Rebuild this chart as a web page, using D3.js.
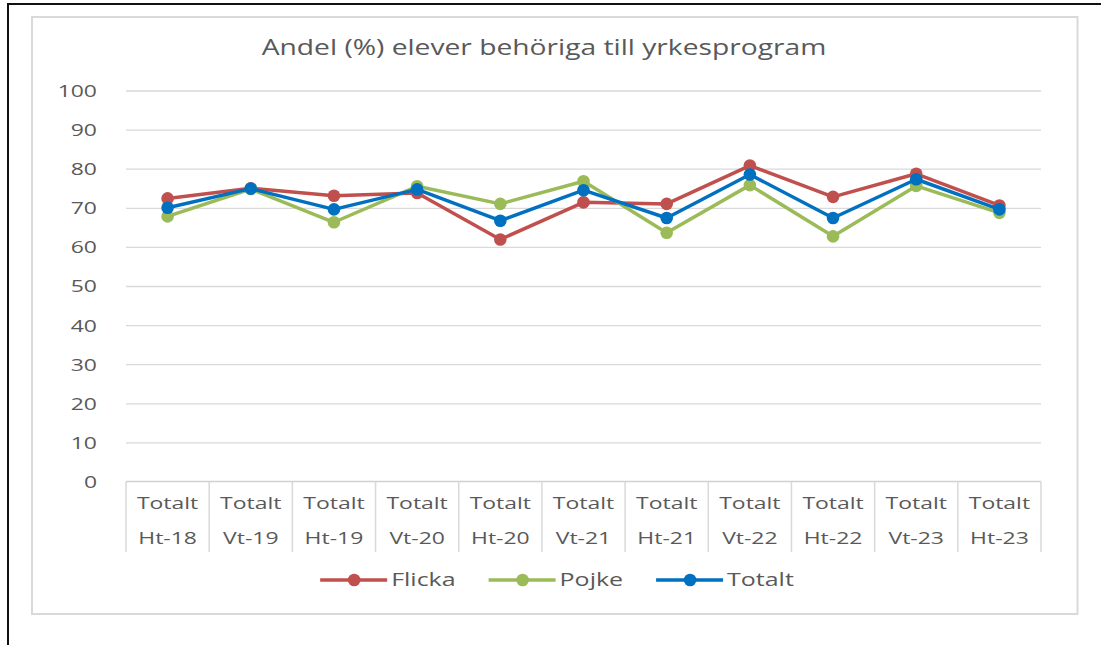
<!DOCTYPE html>
<meta charset="utf-8">
<title>Andel (%) elever behöriga till yrkesprogram</title>
<style>
    body {
        margin: 0;
        background: #fff;
        overflow: hidden;
    }

    svg {
        display: block;
        font-family: "Open Sans", sans-serif;
    }

    .grid line {
        stroke: #d9d9d9;
        stroke-width: 1.3px;
    }

    .series path {
        fill: none;
        stroke-width: 3.5px;
        stroke-linejoin: round;
    }

    text {
        fill: #595959;
    }
</style>

<body>
    <svg width="1101" height="645"></svg>

    <script src="https://d3js.org/d3.v7.min.js"></script>
    <script>
        // chart data
        const groupLabel = "Totalt";
        const periods = ["Ht-18", "Vt-19", "Ht-19", "Vt-20", "Ht-20", "Vt-21", "Ht-21", "Vt-22", "Ht-22", "Vt-23", "Ht-23"];
        const flicka = [72.4, 75.0, 73.1, 73.8, 61.9, 71.4, 71.0, 80.8, 72.8, 78.7, 70.6];
        const pojke = [67.8, 74.8, 66.3, 75.5, 71.0, 76.8, 63.6, 75.8, 62.7, 75.6, 68.7];
        const totalt = [70.0, 74.9, 69.6, 74.7, 66.7, 74.5, 67.4, 78.5, 67.4, 77.3, 69.6];
        const yTicks = [0, 10, 20, 30, 40, 50, 60, 70, 80, 90, 100];

        const series = [
            { name: "Flicka", color: "#c0504d", values: flicka },
            { name: "Pojke", color: "#9bbb59", values: pojke },
            { name: "Totalt", color: "#0070c0", values: totalt }
        ];

        // the picture is stretched sideways, so text is too
        const SX = 1.35;

        const svg = d3.select("svg");

        // outer black frame (top + left only)
        svg.append("line")
            .attr("x1", 8).attr("y1", 4).attr("x2", 1101).attr("y2", 4)
            .attr("stroke", "#111").attr("stroke-width", 2);
        svg.append("line")
            .attr("x1", 8).attr("y1", 3).attr("x2", 8).attr("y2", 645)
            .attr("stroke", "#111").attr("stroke-width", 2);

        // chart area border
        svg.append("rect")
            .attr("x", 32).attr("y", 17)
            .attr("width", 1045.5).attr("height", 597)
            .attr("fill", "#fff")
            .attr("stroke", "#d9d9d9")
            .attr("stroke-width", 2);

        // title
        svg.append("text")
            .attr("transform", `translate(544,55) scale(${SX},1)`)
            .attr("text-anchor", "middle")
            .attr("font-size", 20.9)
            .text("Andel (%) elever behöriga till yrkesprogram");

        const x = d3.scaleBand()
            .domain(periods)
            .range([126, 1041])
            .padding(0);

        const y = d3.scaleLinear()
            .domain([0, 100])
            .range([481.5, 90.5]);

        // gridlines
        svg.append("g")
            .attr("class", "grid")
            .attr("transform", "translate(126,0)")
            .call(d3.axisLeft(y).tickValues(yTicks.slice(1)).tickSize(-915).tickFormat(""))
            .call(g => g.select(".domain").remove());

        // y axis labels
        svg.append("g")
            .attr("transform", "translate(126,0)")
            .call(d3.axisLeft(y).tickValues(yTicks).tickSize(0))
            .call(g => g.select(".domain").remove())
            .call(g => g.selectAll("text")
                .attr("x", null)
                .attr("dy", "0.35em")
                .attr("font-size", 17)
                .attr("font-family", "Open Sans, sans-serif")
                .attr("fill", "#595959")
                .attr("transform", `translate(-29,0) scale(${SX},1)`));

        // category axis: line, separators and two rows of labels
        const cat = svg.append("g");
        cat.append("line")
            .attr("x1", 126).attr("x2", 1041)
            .attr("y1", y(0)).attr("y2", y(0))
            .attr("stroke", "#d0d0d0").attr("stroke-width", 1.5);
        cat.selectAll("line.sep")
            .data(periods.concat([null]))
            .join("line")
            .attr("class", "sep")
            .attr("x1", (d, i) => i < periods.length ? x(d) : x.range()[1])
            .attr("x2", (d, i) => i < periods.length ? x(d) : x.range()[1])
            .attr("y1", y(0))
            .attr("y2", 552)
            .attr("stroke", "#d9d9d9").attr("stroke-width", 1.5);
        cat.selectAll("text.grp")
            .data(periods)
            .join("text")
            .attr("class", "grp")
            .attr("text-anchor", "middle")
            .attr("dy", "0.35em")
            .attr("font-size", 17)
            .attr("transform", d => `translate(${x(d) + x.bandwidth() / 2},503) scale(${SX},1)`)
            .text(groupLabel);
        cat.selectAll("text.per")
            .data(periods)
            .join("text")
            .attr("class", "per")
            .attr("text-anchor", "middle")
            .attr("dy", "0.35em")
            .attr("font-size", 17)
            .attr("transform", d => `translate(${x(d) + x.bandwidth() / 2},538) scale(${SX},1)`)
            .text(d => d);

        // lines + markers
        const cx = i => x(periods[i]) + x.bandwidth() / 2;
        const line = d3.line()
            .x((d, i) => cx(i))
            .y(d => y(d));

        const sg = svg.selectAll("g.series")
            .data(series)
            .join("g")
            .attr("class", "series");

        sg.append("path")
            .attr("stroke", d => d.color)
            .attr("d", d => line(d.values));

        sg.selectAll("circle")
            .data(d => d.values.map(v => ({ v, color: d.color })))
            .join("circle")
            .attr("cx", (d, i) => cx(i))
            .attr("cy", d => y(d.v))
            .attr("r", 6.3)
            .attr("fill", d => d.color);

        // legend
        const legend = svg.append("g").attr("transform", "translate(0,580)");
        const items = legend.selectAll("g")
            .data(series)
            .join("g");
        items.append("line")
            .attr("x1", 0).attr("x2", 67)
            .attr("stroke", d => d.color)
            .attr("stroke-width", 3.5);
        items.append("circle")
            .attr("cx", 34).attr("r", 6.3)
            .attr("fill", d => d.color);
        items.append("text")
            .attr("dy", "0.35em")
            .attr("font-size", 18.5)
            .attr("transform", `translate(71,0) scale(${SX},1)`)
            .text(d => d.name);

        // lay the legend out centred
        let pos = 0;
        const offsets = [];
        items.each(function () {
            const w = 71 + this.querySelector("text").getComputedTextLength() * SX;
            offsets.push(pos);
            pos += w + 33;
        });
        const total = pos - 33;
        const start = 557 - total / 2;
        items.attr("transform", (d, i) => `translate(${start + offsets[i]},0)`);
    </script>
</body>

</html>
